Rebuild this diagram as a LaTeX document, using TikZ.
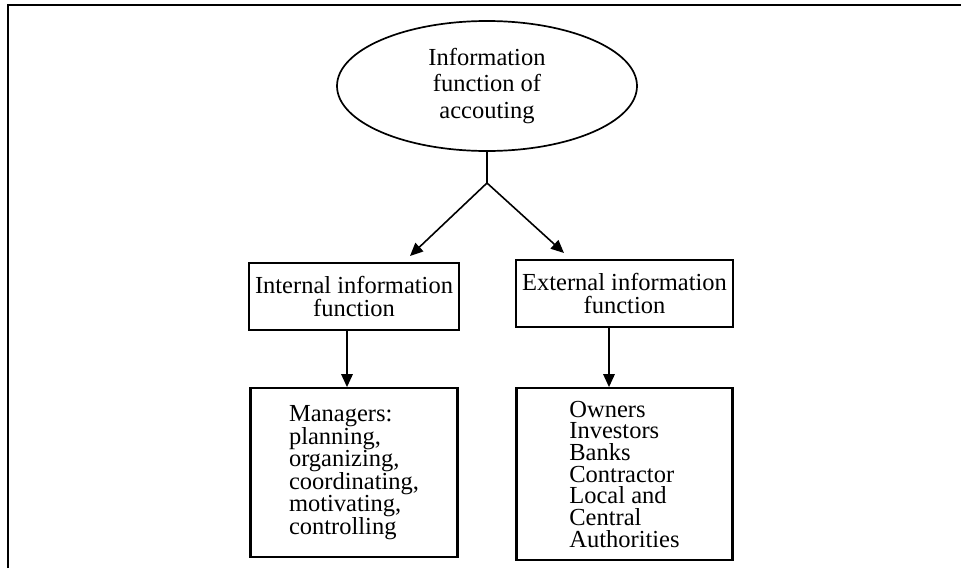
\documentclass[tikz,border=0pt]{standalone}
\usepackage{fontspec}
\setmainfont{Liberation Serif}
\usetikzlibrary{shapes.geometric, positioning, arrows.meta}

\begin{document}
\begin{tikzpicture}[x=1pt, y=-1pt,
    box/.style={draw, line width=2.2pt, inner sep=0pt, align=center,
      font={\fontsize{24.5}{23.3}\selectfont}},
    listbox/.style={draw, line width=2.2pt, inner sep=0pt, align=left,
      font={\fontsize{24.5}{21.7}\selectfont}},
    arr/.style={line width=1.6pt, -{Triangle[length=13pt, width=11.5pt]}}]
  \useasboundingbox (0,0) rectangle (961,568);
  \draw[line width=2pt] (8,568) -- (8,5) -- (961,5);

  \node[ellipse, draw, line width=1.7pt, minimum width=300pt, minimum height=130pt,
    inner sep=0pt, align=center, font={\fontsize{24.5}{26.7}\selectfont}]
    (acc) at (487,86) {Information\\function of\\accouting};
  \node[box, minimum width=210pt, minimum height=67pt] (int) at (354,296.5) {Internal information\\function};
  \node[box, minimum width=217pt, minimum height=67pt] (ext) at (624.5,293.5) {External information\\function};
  \node[listbox, minimum width=207pt, minimum height=169pt, below=56pt of int] (mgr)
    {Managers:\\planning,\\organizing,\\coordinating,\\motivating,\\controlling};
  \node[listbox, minimum width=216pt, minimum height=172pt, below=59pt of ext] (users)
    {Owners\\Investors\\Banks\\Contractor\\Local and\\Central\\Authorities};

  \coordinate (fork) at (487,183);
  \coordinate (tipI) at (410,256);
  \coordinate (tipE) at (564,253);

  \draw[line width=1.6pt] (acc.south) -- (fork);
  \draw[arr] (fork) -- (tipI);
  \draw[arr] (fork) -- (tipE);
  \draw[arr] ([xshift=-7pt]int.south) -- ([xshift=-7pt]int.south |- mgr.north);
  \draw[arr] ([xshift=-15.5pt]ext.south) -- ([xshift=-15.5pt]ext.south |- users.north);
\end{tikzpicture}
\end{document}
